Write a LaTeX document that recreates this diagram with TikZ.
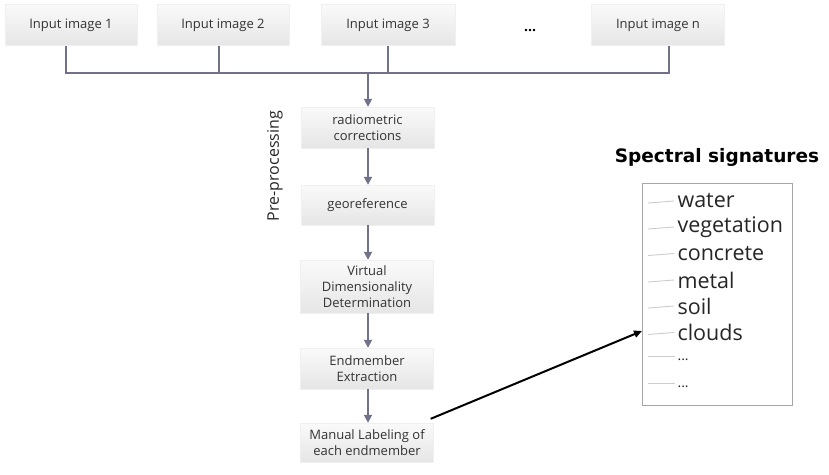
\documentclass[tikz,border=0pt]{standalone}
\usepackage{fontspec}
\setmainfont{Open Sans}
\newfontfamily\titlefont{DejaVu Sans}
\usetikzlibrary{arrows.meta}
\definecolor{linkc}{RGB}{112,114,138}
\begin{document}
\begin{tikzpicture}[x=1pt,y=-1pt,
  gbox/.style={draw=gray!12,line width=0.4pt,top color=gray!4,bottom color=gray!20,
    inner sep=0pt,font=\fontsize{13}{16}\selectfont,text=black!80,align=center},
  link/.style={draw=linkc,line width=1.8pt},
  larrow/.style={link,-{Triangle[length=8pt,width=8pt]}},
  sig/.style={font=\fontsize{21.5}{21.5}\selectfont,anchor=west,text=black!85},
  sline/.style={draw=gray!40,line width=0.9pt}]
\useasboundingbox (0,0) rectangle (829,474);
% input boxes
\node[gbox,minimum width=132pt,minimum height=41pt] (in1) at (71,25) {Input image 1};
\node[gbox,minimum width=132pt,minimum height=41pt] (in2) at (223,25) {Input image 2};
\node[gbox,minimum width=134pt,minimum height=41pt] (in3) at (388,25) {Input image 3};
\node[font=\fontsize{14}{14}\selectfont\bfseries] (dots) at (530,31) {...};
\node[gbox,minimum width=133pt,minimum height=41pt] (inn) at (658,25) {Input image n};
% collectors
\coordinate (c1) at (66,73);
\coordinate (c2) at (219,73);
\coordinate (c3) at (388,73);
\coordinate (cn) at (669,73);
\coordinate (cm) at (368,73);
\draw[link] (in1.south -| c1) -- (c1) -- (cn) -- (inn.south -| cn);
\draw[link] (in2.south -| c2) -- (c2);
\draw[link] (in3.south -| c3) -- (c3);
% pipeline
\node[gbox,minimum width=133pt,minimum height=41pt] (rad) at (367.5,127.5) {radiometric\\corrections};
\node[gbox,minimum width=133pt,minimum height=40pt] (geo) at (367.5,205) {georeference};
\node[gbox,minimum width=133pt,minimum height=53pt] (vdd) at (367,286.5) {Virtual\\Dimensionality\\Determination};
\node[gbox,minimum width=133pt,minimum height=41pt] (end) at (367,368.5) {Endmember\\Extraction};
\node[gbox,minimum width=133pt,minimum height=39pt] (man) at (367,442.5) {Manual Labeling of\\each endmember};
\draw[larrow] (cm) -- (rad.north -| cm);
\draw[larrow] (rad.south -| cm) -- (geo.north -| cm);
\draw[larrow] (geo.south -| cm) -- (vdd.north -| cm);
\draw[larrow] (vdd.south -| cm) -- (end.north -| cm);
\draw[larrow] (end.south -| cm) -- (man.north -| cm);
\node[rotate=90,font=\fontsize{16}{16}\selectfont,text=black!85] (pre) at (275,166) {Pre-processing};
% spectral signatures
\node[font=\titlefont\fontsize{18.5}{18.5}\selectfont\bfseries] (title) at (717,157) {Spectral signatures};
\node[draw=gray!70,line width=0.8pt,minimum width=150pt,minimum height=222pt,inner sep=0pt] (sbox) at (717,294) {};
\foreach \t/\y/\n in {water/203/s1,vegetation/229/s2,concrete/255.5/s3,metal/282/s4,soil/308/s5,clouds/334.5/s6}{
  \coordinate (\n a) at (648,\y);
  \node[sig] (\n) at (674,\y-2) {\t};
  \draw[sline] (\n a) -- (\n.west);
}
\coordinate (s7a) at (648,356);
\node[sig,font=\fontsize{14}{14}\selectfont] (s7) at (674,360) {...};
\draw[sline] (s7a) -- ++(27,0);
\coordinate (s8a) at (648,383);
\node[sig,font=\fontsize{14}{14}\selectfont] (s8) at (674,387) {...};
\draw[sline] (s8a) -- ++(27,0);
\coordinate (arrend) at (642,331);
\draw[black,line width=2pt,-{Triangle[length=8pt,width=7pt]}] (man.north east) ++(-3,-4) coordinate (arrst) (arrst) -- (arrend);
\end{tikzpicture}
\end{document}
